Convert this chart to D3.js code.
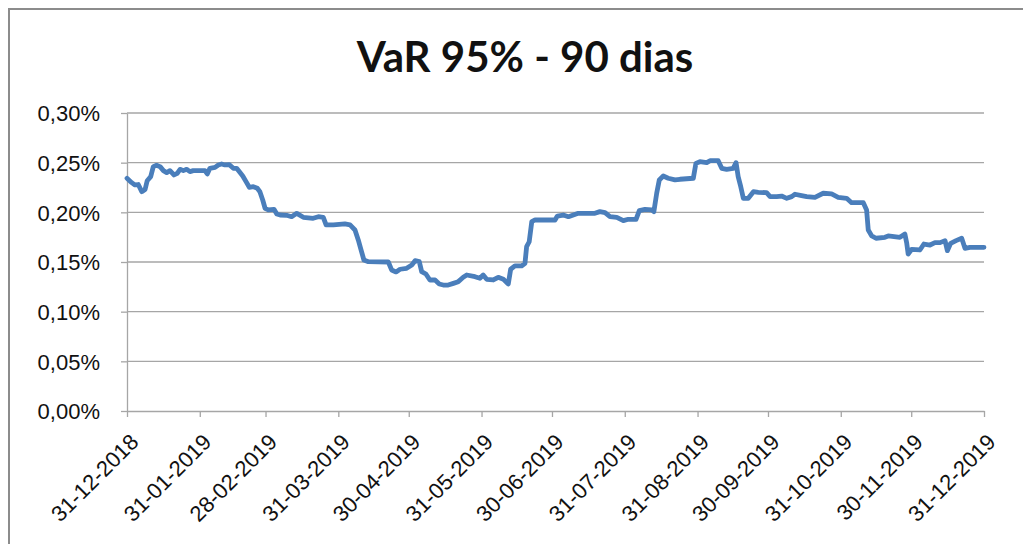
<!DOCTYPE html>
<html>
<head>
<meta charset="utf-8">
<script src="https://cdn.jsdelivr.net/npm/d3@7"></script>
<style>
  body { margin: 0; background: #fff; }
  svg { display: block; font-family: Lato, "Open Sans", sans-serif; }
  .grid line { stroke: #a6a6a6; stroke-width: 1.3; }
  .axis path, .axis line { stroke: #a6a6a6; stroke-width: 1.3; }
  .axis text { fill: #111; font-size: 22px; }
</style>
</head>
<body>
<svg id="chart"></svg>
<script>
// days after 31-12-2018
const days = [0, 2, 3.4, 4.8, 6.3, 7.7, 8.6, 10.1, 11.2, 12.6, 14.1, 15.5, 16.9, 18.3, 20, 21.4, 22.6, 24, 25.4, 26.8,
  28.2, 33.2, 34.2, 35.3, 37.5, 38.9, 40.3, 41.7, 43.6, 45.3, 46.7, 47.8, 49.3, 50.7, 52.1, 53.8, 55.5, 56.6, 57.8, 58.8,
  60.2, 62.6, 63.8, 65.2, 68, 70.1, 72.3, 75.1, 79.3, 81.5, 83.6, 84.8, 87.9, 92.8, 95, 97.1, 98.5, 99.5, 100.9, 102.8,
  111.3, 112.7, 114.6, 116.3, 119.1, 121.3, 122.7, 124.5, 125.5, 127.3, 129, 131.2, 133, 134.7, 136.8, 139, 141.1, 143.2, 144.7, 148.2,
  150.3, 151.7, 153.2, 156, 158.1, 160.3, 162.4, 163.4, 165.2, 168.1, 169.5, 170.2, 171.3, 172.4, 173.8, 182.3, 183.3, 185.8, 188, 190.1,
  192.2, 199.3, 201.4, 203.6, 205.7, 208.6, 211.4, 213.5, 216.8, 218.2, 220.6, 223.5, 224.4, 225.6, 226.7, 228.4, 230.5, 233.4, 235.5, 241.2,
  242.3, 244, 246.9, 248.3, 251.8, 253.3, 255.4, 258.2, 259.4, 260.3, 261.4, 262.5, 264.6, 266.8, 268.9, 272.4, 273.9, 276.7, 278.8, 281,
  283.1, 284.5, 287.3, 289.5, 293, 296.5, 300.1, 302.9, 306.5, 308.6, 313.6, 315, 315.7, 317.2, 319, 322.8, 324.2, 329.2, 331.3, 332.1,
  332.7, 334.2, 337.7, 339.4, 342, 344.1, 346.3, 348.4, 349.4, 350.8, 353.1, 355.5, 356.9, 359, 365];

// VaR in percent
const vars = [0.2343, 0.2299, 0.2276, 0.228, 0.2208, 0.223, 0.2318, 0.2359, 0.246, 0.2473, 0.246, 0.242, 0.240, 0.242, 0.2376, 0.2393, 0.2433, 0.242, 0.2433, 0.241,
  0.242, 0.242, 0.2386, 0.2443, 0.2453, 0.2477, 0.2487, 0.2477, 0.248, 0.2443, 0.2443, 0.241, 0.2366, 0.2309, 0.2252, 0.2258, 0.2242, 0.2208, 0.2124, 0.2041,
  0.2024, 0.2030, 0.1983, 0.1973, 0.197, 0.1956, 0.199, 0.195, 0.194, 0.1956, 0.195, 0.1873, 0.1873, 0.1883, 0.1873, 0.1822, 0.1722, 0.1638, 0.152, 0.1503,
  0.150, 0.142, 0.140, 0.1427, 0.1437, 0.147, 0.1513, 0.1503, 0.1403, 0.1379, 0.1319, 0.1319, 0.1279, 0.1268, 0.1268, 0.1285, 0.1302, 0.1346, 0.1369, 0.1352,
  0.1336, 0.1369, 0.1326, 0.1319, 0.1346, 0.1326, 0.1279, 0.1427, 0.146, 0.146, 0.1487, 0.1654, 0.1704, 0.1906, 0.1923, 0.1923, 0.1963, 0.1973, 0.1956, 0.1973,
  0.199, 0.199, 0.2007, 0.1997, 0.1956, 0.195, 0.1916, 0.193, 0.193, 0.2017, 0.203, 0.2024, 0.2007, 0.2192, 0.2326, 0.2366, 0.2343, 0.2326, 0.2333, 0.2343,
  0.2493, 0.251, 0.25, 0.252, 0.252, 0.2443, 0.2433, 0.2443, 0.25, 0.2359, 0.2258, 0.2141, 0.2141, 0.2208, 0.2201, 0.2198, 0.2158, 0.2158, 0.2164, 0.2141,
  0.2158, 0.2182, 0.2168, 0.2158, 0.2151, 0.2192, 0.2185, 0.2151, 0.2141, 0.2097, 0.2097, 0.2024, 0.1822, 0.1762, 0.1739, 0.1749, 0.1762, 0.1749, 0.1782, 0.1688,
  0.158, 0.1628, 0.1621, 0.1681, 0.1671, 0.1695, 0.1695, 0.1715, 0.1614, 0.1688, 0.1715, 0.1739, 0.1638, 0.1648, 0.1648];

const tickDates = ["2018-12-31", "2019-01-31", "2019-02-28", "2019-03-31", "2019-04-30", "2019-05-31", "2019-06-30",
  "2019-07-31", "2019-08-31", "2019-09-30", "2019-10-31", "2019-11-30", "2019-12-31"];
const yTicks = [0, 0.05, 0.10, 0.15, 0.20, 0.25, 0.30];
const title = "VaR 95% - 90 dias";

const width = 1023, height = 544;
const margin = { top: 113, right: 39, bottom: 133, left: 127 };

const svg = d3.select("#chart").attr("width", width).attr("height", height);

// outer chart frame
svg.append("rect")
  .attr("x", 9).attr("y", 9)
  .attr("width", 1040).attr("height", 560)
  .attr("fill", "none").attr("stroke", "#8c8c8c").attr("stroke-width", 2);

const start = Date.UTC(2018, 11, 31);
const toDate = d => new Date(start + d * 864e5);
const parse = d3.utcParse("%Y-%m-%d");

const x = d3.scaleUtc()
  .domain([parse(tickDates[0]), parse(tickDates[tickDates.length - 1])])
  .range([margin.left, width - margin.right]);
const y = d3.scaleLinear()
  .domain([0, 0.30])
  .range([height - margin.bottom, margin.top]);

const fmtPct = v => v.toFixed(2).replace(".", ",") + "%";

// horizontal gridlines
svg.append("g").attr("class", "grid")
  .selectAll("line")
  .data(yTicks.slice(1))
  .join("line")
  .attr("x1", margin.left).attr("x2", width - margin.right)
  .attr("y1", d => y(d)).attr("y2", d => y(d));

// y axis
const yAxis = svg.append("g").attr("class", "axis")
  .attr("transform", `translate(${margin.left},0)`)
  .call(d3.axisLeft(y).tickValues(yTicks).tickFormat(fmtPct).tickSize(6).tickSizeOuter(0).tickPadding(21));
yAxis.selectAll("text").attr("dy", "0.35em");

// x axis
const xAxis = svg.append("g").attr("class", "axis")
  .attr("transform", `translate(0,${height - margin.bottom})`)
  .call(d3.axisBottom(x).tickValues(tickDates.map(parse)).tickFormat(d3.utcFormat("%d-%m-%Y")).tickSize(6).tickSizeOuter(0));
xAxis.selectAll("text")
  .attr("text-anchor", "end")
  .attr("dx", 0).attr("dy", 0)
  .attr("transform", "translate(6,26) rotate(-45)");

// line
const data = days.map((d, i) => ({ date: toDate(d), v: vars[i] }));
svg.append("path")
  .datum(data)
  .attr("fill", "none")
  .attr("stroke", "#4a7ebb")
  .attr("stroke-width", 4.8)
  .attr("stroke-linejoin", "round")
  .attr("stroke-linecap", "round")
  .attr("d", d3.line().x(d => x(d.date)).y(d => y(d.v)));

svg.append("text")
  .attr("x", 525).attr("y", 72)
  .attr("text-anchor", "middle")
  .attr("font-weight", "bold")
  .attr("font-size", 42)
  .attr("fill", "#111")
  .text(title);
</script>
</body>
</html>
